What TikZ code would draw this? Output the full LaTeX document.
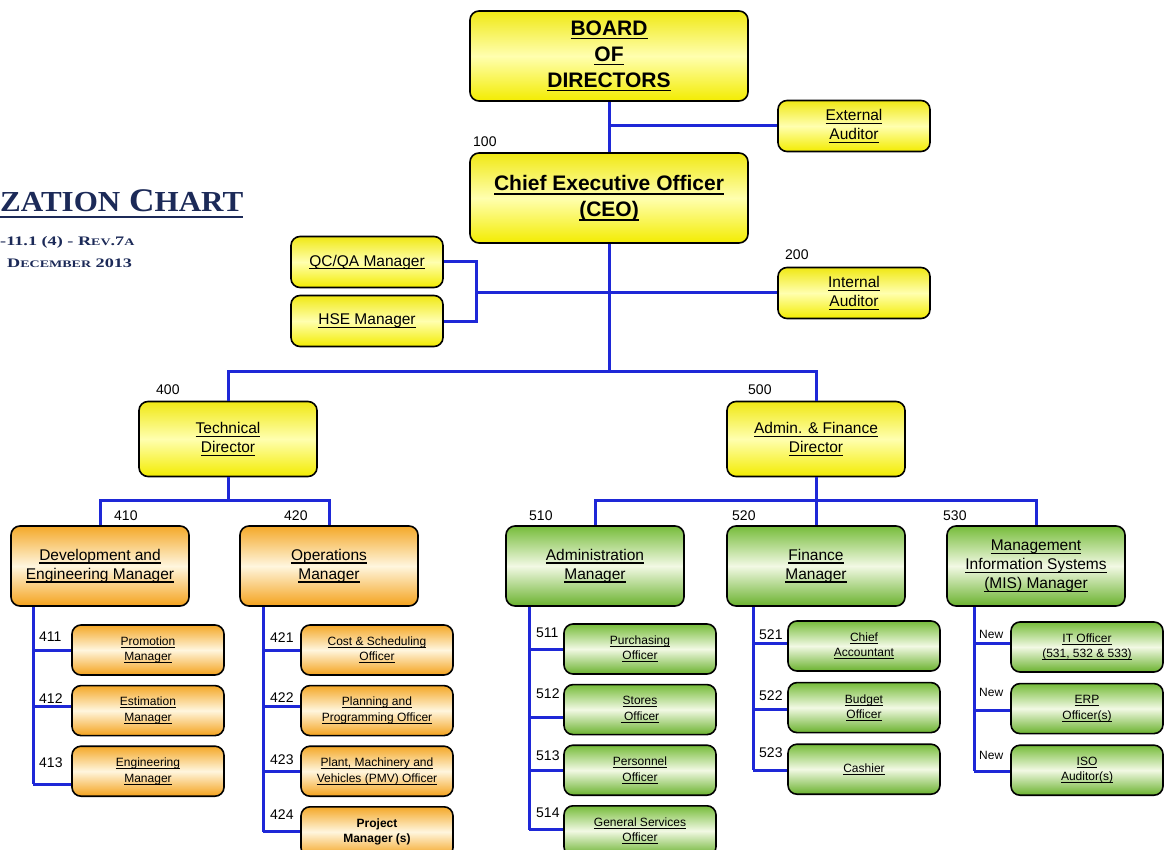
\documentclass[tikz,border=0pt]{standalone}
\usepackage{fontspec}
\setmainfont{Liberation Sans}
\newfontfamily\titlefont[FakeStretch=1.07]{Liberation Serif}
\newfontfamily\revfont[FakeStretch=1.4]{Liberation Serif}
\usetikzlibrary{positioning}
\definecolor{linkblue}{RGB}{30,40,215}
\definecolor{titleblue}{RGB}{28,42,88}
\definecolor{ytop}{RGB}{240,232,20}
\definecolor{ymid}{RGB}{255,255,175}
\definecolor{ybot}{RGB}{243,236,0}
\definecolor{otop}{RGB}{244,168,40}
\definecolor{omid}{RGB}{255,246,222}
\definecolor{obot}{RGB}{244,162,28}
\definecolor{gtop}{RGB}{118,188,58}
\definecolor{gmid}{RGB}{242,249,228}
\definecolor{gbot}{RGB}{106,178,46}
\newcommand{\un}[1]{\leavevmode\setbox0\hbox{#1}\rlap{\rule[-0.2em]{\wd0}{0.075em}}\box0}
\begin{document}
\begin{tikzpicture}[x=1pt,y=-1pt,
  box/.style={draw=black, line width=1.6pt, rounded corners=9pt, align=center, inner sep=1pt},
  ybox/.style={box, top color=ytop, bottom color=ybot, middle color=ymid},
  obox/.style={box, top color=otop, bottom color=obot, middle color=omid},
  gbox/.style={box, top color=gtop, bottom color=gbot, middle color=gmid},
  bigtext/.style={font=\fontsize{21}{26}\selectfont\bfseries},
  midtext/.style={font=\fontsize{15.5}{19}\selectfont},
  smltext/.style={font=\fontsize{12}{15.5}\selectfont},
  topbox/.style={ybox, bigtext, minimum width=278pt, minimum height=90pt},
  auxbox/.style={ybox, midtext, minimum width=152pt, minimum height=51pt},
  dirbox/.style={ybox, midtext, minimum width=178pt, minimum height=75pt},
  mgrbox/.style={midtext, minimum width=178pt, minimum height=80pt},
  subbox/.style={smltext, minimum width=152pt, minimum height=50pt},
  link/.style={draw=linkblue, line width=3pt},
  num/.style={anchor=west, inner sep=0pt, font=\fontsize{14}{14}\selectfont},
  newlbl/.style={anchor=west, inner sep=0pt, font=\fontsize{12}{12}\selectfont},
  node distance=9pt]

\path[use as bounding box, fill=white] (0,0) rectangle (1167,850);

\node[anchor=west, inner sep=0pt, text=titleblue, font=\titlefont\bfseries\fontsize{33}{33}\selectfont] (title) at (0,204)
  {\un{{\fontsize{29}{29}\selectfont ZATION} C{\fontsize{29}{29}\selectfont HART}}};
\node[anchor=west, inner sep=0pt, text=titleblue, font=\revfont\bfseries\fontsize{13}{13}\selectfont] (rev) at (0,242)
  {-11.1 (4) - R{\fontsize{10}{10}\selectfont EV}.7{\fontsize{10}{10}\selectfont A}};
\node[anchor=west, inner sep=0pt, text=titleblue, font=\revfont\bfseries\fontsize{13}{13}\selectfont] (date) at (7,263)
  {D{\fontsize{10}{10}\selectfont ECEMBER} 2013};

\node[topbox] (board) at (609,56) {\un{BOARD}\\\un{OF}\\\un{DIRECTORS}};
\node[auxbox] (extaud) at (854,126) {\un{External}\\\un{Auditor}};
\node[topbox] (ceo) at (609,198) {\un{Chief Executive Officer}\\\un{(CEO)}};
\node[auxbox] (qc) at (367,262) {\un{QC/QA Manager}};
\node[auxbox] (hse) at (367,321) {\un{HSE Manager}};
\node[auxbox] (intaud) at (854,293) {\un{Internal}\\\un{Auditor}};
\node[dirbox] (tech) at (228,439) {\un{Technical}\\\un{Director}};
\node[dirbox] (afd) at (816,439) {\un{Admin. \& Finance}\\\un{Director}};

\node[obox, mgrbox] (dev) at (100,566) {\un{Development and}\\\un{Engineering Manager}};
\node[obox, mgrbox] (ops) at (329,566) {\un{Operations}\\\un{Manager}};
\node[gbox, mgrbox] (adm) at (595,566) {\un{Administration}\\\un{Manager}};
\node[gbox, mgrbox] (fin) at (816,566) {\un{Finance}\\\un{Manager}};
\node[gbox, mgrbox] (mis) at (1036,566) {\un{Management}\\\un{Information Systems}\\\un{(MIS) Manager}};

\node[obox, subbox] (promo) at (148,650) {\un{Promotion}\\\un{Manager}};
\node[obox, subbox, below=of promo] (estm) {\un{Estimation}\\\un{Manager}};
\node[obox, subbox, below=of estm] (engm) {\un{Engineering}\\\un{Manager}};

\node[obox, subbox] (cost) at (377,650) {\un{Cost \& Scheduling}\\\un{Officer}};
\node[obox, subbox, below=of cost] (plan) {\un{Planning and}\\\un{Programming Officer}};
\node[obox, subbox, below=of plan] (plant) {\un{Plant, Machinery and}\\\un{Vehicles (PMV) Officer}};
\node[obox, subbox, below=of plant, font=\fontsize{12}{15.5}\selectfont\bfseries] (proj) {Project\\Manager (s)};

\node[gbox, subbox] (purch) at (640,649) {\un{Purchasing}\\\un{Officer}};
\node[gbox, subbox, below=of purch] (stores) {\un{Stores}\\\un{ Officer}};
\node[gbox, subbox, below=of stores] (pers) {\un{Personnel}\\\un{Officer}};
\node[gbox, subbox, below=of pers] (gensrv) {\un{General Services}\\\un{Officer}};

\node[gbox, subbox] (chief) at (864,646) {\un{Chief}\\\un{Accountant}};
\node[gbox, subbox, below=10pt of chief] (budget) {\un{Budget}\\\un{Officer}};
\node[gbox, subbox, below=10pt of budget] (cashier) {\un{Cashier}};

\node[gbox, subbox] (itoff) at (1087,647) {\un{IT Officer}\\\un{(531, 532 \& 533)}};
\node[gbox, subbox, below=10pt of itoff] (erp) {\un{ERP}\\\un{Officer(s)}};
\node[gbox, subbox, below=10pt of erp] (iso) {\un{ISO}\\\un{Auditor(s)}};

\node[num] (n100) at (473,142) {100};
\node[num] (n200) at (785,255) {200};
\node[num] (n400) at (156,390) {400};
\node[num] (n500) at (748,390) {500};
\node[num] (n410) at (114,516) {410};
\node[num] (n420) at (284,516) {420};
\node[num] (n510) at (529,516) {510};
\node[num] (n520) at (732,516) {520};
\node[num] (n530) at (943,516) {530};
\node[num] (n411) at (39,637) {411};
\node[num] (n412) at (39,699) {412};
\node[num] (n413) at (39,763) {413};
\node[num] (n421) at (270,638) {421};
\node[num] (n422) at (270,698) {422};
\node[num] (n423) at (270,760) {423};
\node[num] (n424) at (270,815) {424};
\node[num] (n511) at (536,633) {511};
\node[num] (n512) at (536,694) {512};
\node[num] (n513) at (536,756) {513};
\node[num] (n514) at (536,813) {514};
\node[num] (n521) at (759,635) {521};
\node[num] (n522) at (759,696) {522};
\node[num] (n523) at (759,753) {523};
\node[newlbl] (new1) at (979,634) {New};
\node[newlbl] (new2) at (979,692) {New};
\node[newlbl] (new3) at (979,755) {New};

\coordinate (hub) at (609,371);
\coordinate (qcj) at (476,293);
\coordinate (tj) at (228,500);
\coordinate (aj) at (816,500);
\coordinate (dt) at (33,0);
\coordinate (ot) at (263,0);
\coordinate (adt) at (529,0);
\coordinate (ft) at (753,0);
\coordinate (mt) at (974,0);

\draw[link] (board) -- (ceo);
\draw[link] (extaud.west) -- (extaud.west -| board.south);
\draw[link] (ceo) -- (hub);
\draw[link] (qc.east) -| (qcj) |- (hse.east);
\draw[link] (qcj) -- (intaud.west);
\draw[link] (tech.north) |- (hub) -| (afd.north);
\draw[link] (tech) -- (tj);
\draw[link] (dev.north) |- (tj) -| (ops.north);
\draw[link] (afd) -- (fin);
\draw[link] (adm.north) |- (aj) -| (mis.north);

\foreach \n/\d in {promo/0,estm/4,engm/-13,cost/0,plan/4,plant/0,proj/0,purch/0,stores/-8,pers/0,gensrv/1,chief/3,budget/-2,cashier/-1,itoff/4,erp/-2,iso/-1}
  \coordinate (c\n) at ([yshift=\d pt]\n.west);

\draw[link] (dev.south -| dt) -- (cengm -| dt);
\draw[link] (ops.south -| ot) -- (cproj -| ot);
\draw[link] (adm.south -| adt) -- (cgensrv -| adt);
\draw[link] (fin.south -| ft) -- (ccashier -| ft);
\draw[link] (mis.south -| mt) -- (ciso -| mt);
\foreach \n in {promo,estm,engm} \draw[link] (c\n) -- (c\n -| dt);
\foreach \n in {cost,plan,plant,proj} \draw[link] (c\n) -- (c\n -| ot);
\foreach \n in {purch,stores,pers,gensrv} \draw[link] (c\n) -- (c\n -| adt);
\foreach \n in {chief,budget,cashier} \draw[link] (c\n) -- (c\n -| ft);
\foreach \n in {itoff,erp,iso} \draw[link] (c\n) -- (c\n -| mt);
\end{tikzpicture}
\end{document}
